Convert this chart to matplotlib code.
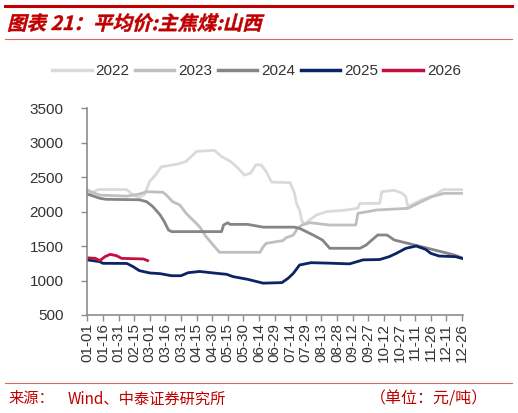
import matplotlib
matplotlib.use('Agg')
from matplotlib import pyplot as plt
from matplotlib.lines import Line2D
from matplotlib.textpath import TextPath
from matplotlib.patches import PathPatch
from matplotlib.font_manager import FontProperties
from matplotlib.transforms import Affine2D

plt.rcParams['font.family'] = ['Liberation Sans', 'Noto Sans CJK SC', 'DejaVu Sans']

# day-of-year (0 = 01-01) and price (元/吨)
days_2022 = [0, 4, 10, 38, 45, 50, 55, 60, 66, 71, 87, 95, 105, 122, 129, 138, 145, 151, 157, 162, 167,
             172, 177, 195, 199, 201, 204, 206, 208, 212, 220, 230, 247, 260, 262, 281, 283, 295, 302,
             306, 308, 321, 334, 342, 361]
vals_2022 = [2320, 2270, 2320, 2320, 2230, 2205, 2250, 2440, 2540, 2650, 2690, 2730, 2875, 2890, 2800,
             2725, 2630, 2530, 2560, 2680, 2680, 2580, 2430, 2420, 2270, 2120, 2020, 1880, 1810, 1860,
             1950, 2000, 2020, 2050, 2120, 2120, 2290, 2310, 2270, 2220, 2070, 2170, 2240, 2320, 2320]

days_2023 = [0, 12, 38, 50, 57, 73, 76, 82, 89, 95, 100, 108, 114, 121, 127, 166, 169, 172, 188, 191,
             198, 202, 207, 214, 233, 258, 260, 278, 308, 321, 331, 343, 361]
vals_2023 = [2310, 2240, 2225, 2255, 2290, 2280, 2240, 2145, 2095, 1975, 1900, 1780, 1640, 1515, 1410,
             1410, 1490, 1540, 1580, 1620, 1660, 1760, 1810, 1840, 1806, 1806, 1975, 2024, 2048, 2144,
             2217, 2266, 2266]

days_2024 = [0, 12, 18, 50, 57, 63, 70, 74, 78, 81, 129, 131, 135, 137, 154, 169, 199, 204, 217, 226,
             233, 262, 268, 279, 288, 295, 308, 324, 340, 353, 361]
vals_2024 = [2256, 2194, 2179, 2172, 2145, 2073, 1952, 1855, 1734, 1710, 1710, 1806, 1839, 1815, 1815,
             1775, 1775, 1757, 1661, 1588, 1468, 1468, 1516, 1661, 1661, 1588, 1540, 1480, 1419, 1370,
             1323]

days_2025 = [0, 12, 15, 38, 44, 50, 60, 70, 81, 90, 97, 108, 121, 134, 140, 154, 169, 187, 193, 198,
             204, 215, 233, 252, 265, 281, 290, 297, 306, 316, 325, 330, 338, 354, 361]
vals_2025 = [1300, 1274, 1250, 1248, 1202, 1144, 1110, 1100, 1070, 1070, 1114, 1132, 1110, 1090, 1057,
             1018, 962, 970, 1033, 1105, 1226, 1259, 1252, 1242, 1300, 1305, 1346, 1395, 1467, 1501,
             1453, 1395, 1356, 1346, 1318]

days_2026 = [0, 8, 12, 17, 22, 28, 33, 54, 58]
vals_2026 = [1330, 1322, 1289, 1347, 1380, 1361, 1322, 1313, 1289]

series = {
    '2022': (days_2022, vals_2022, '#dadada'),
    '2023': (days_2023, vals_2023, '#bfbfbf'),
    '2024': (days_2024, vals_2024, '#858585'),
    '2025': (days_2025, vals_2025, '#0b2466'),
    '2026': (days_2026, vals_2026, '#c41040'),
}

tick_labels = ['01-01', '01-16', '01-31', '02-15', '03-01', '03-16', '03-31', '04-15', '04-30',
               '05-15', '05-30', '06-14', '06-29', '07-14', '07-29', '08-13', '08-28', '09-12',
               '09-27', '10-12', '10-27', '11-11', '11-26', '12-11', '12-26']
tick_days = [15 * i for i in range(len(tick_labels))]
y_ticks = [500, 1000, 1500, 2000, 2500, 3000, 3500]

title = '图表 21：平均价:主焦煤:山西'
red = '#c00000'
axis_gray = '#8c8c8c'
text_gray = '#333333'

fig = plt.figure(figsize=(5.18, 4.13), dpi=100)
ax = fig.add_axes([0.1685, 0.2373, 0.7253, 0.5005])

for name, (d, v, c) in series.items():
    ax.plot(d, v, color=c, lw=2.0, solid_joinstyle='round', label=name)

ax.set_xlim(0, 361)
ax.set_ylim(500, 3500)
ax.set_xticks(tick_days)
ax.set_xticklabels(tick_labels, rotation=90, fontsize=11, color=text_gray)
ax.set_yticks(y_ticks)
ax.set_yticklabels([str(t) for t in y_ticks], fontsize=11, color=text_gray)
ax.tick_params(axis='both', direction='out', length=4, width=1, color=axis_gray)
ax.tick_params(axis='x', pad=2)
ax.tick_params(axis='y', pad=13)
for s in ['top', 'right']:
    ax.spines[s].set_visible(False)
for s in ['left', 'bottom']:
    ax.spines[s].set_color(axis_gray)
    ax.spines[s].set_linewidth(1.2)

handles = [Line2D([], [], color=c, lw=2.5) for (_, _, c) in series.values()]
fig.legend(handles, list(series.keys()), loc='center', bbox_to_anchor=(0.495, 1 - 71 / 413),
           ncol=5, frameon=False, fontsize=11, handlelength=2.6, handletextpad=0.25,
           columnspacing=0.35, labelcolor=text_gray)

# header and footer decoration
fig.add_artist(Line2D([5 / 518, 512 / 518], [1 - 6 / 413, 1 - 6 / 413], color=red, lw=2.2))
fig.add_artist(Line2D([5 / 518, 512 / 518], [1 - 39 / 413, 1 - 39 / 413], color='#d66a6a', lw=0.8))
fig.add_artist(Line2D([5 / 518, 512 / 518], [1 - 383 / 413, 1 - 383 / 413], color='#d66a6a', lw=0.8))

# slanted title (CJK font has no italic, so skew the glyph outlines)
tp = TextPath((0, 0), title, size=0.195, prop=FontProperties(family='Noto Sans CJK SC', weight='bold'))
title_tr = Affine2D().skew_deg(14, 0).translate(7 / 100, (413 - 30) / 100) + fig.dpi_scale_trans
fig.add_artist(PathPatch(tp, transform=title_tr, facecolor=red, edgecolor=red, lw=0.3))

fig.text(8 / 518, 1 - 399 / 413, '来源：', color=red, fontsize=11,
         va='center', ha='left', family=['Noto Sans CJK SC', 'DejaVu Sans'])
fig.text(68 / 518, 1 - 399 / 413, 'Wind、中泰证券研究所', color=red, fontsize=11,
         va='center', ha='left', family=['Noto Sans CJK SC', 'DejaVu Sans'])
fig.text(488 / 518, 1 - 399 / 413, '（单位：元/吨）', color=red, fontsize=11.5,
         va='center', ha='right', family=['Noto Sans CJK SC', 'DejaVu Sans'])

fig.savefig('out.png', dpi=100)
